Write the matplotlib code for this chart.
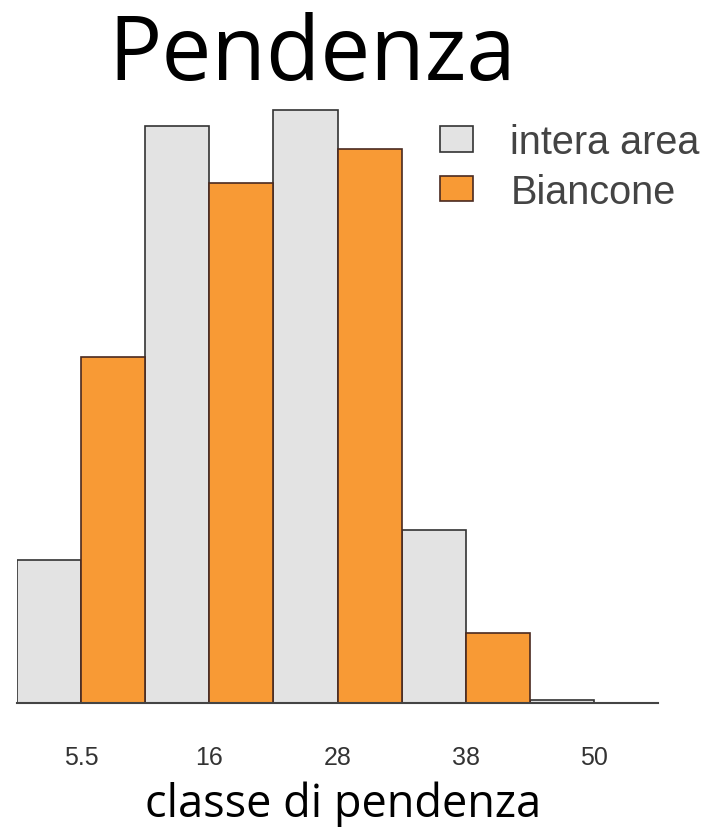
import matplotlib.pyplot as plt
import numpy as np

# classi di pendenza
classi = ["5.5", "16", "28", "38", "50"]
# percentuali (somma ~100)
intera_area = [9.6, 38.7, 39.8, 11.6, 0.2]
biancone = [23.2, 34.9, 37.2, 4.7, 0.0]

fig = plt.figure(figsize=(7.18, 8.28), dpi=100)
ax = fig.add_axes([17 / 718, 1 - 704 / 828, 641 / 718, 604 / 828])

x = np.arange(len(classi))
w = 0.5
ax.bar(x - w / 2, intera_area, width=w, color="#e3e3e3", edgecolor="#333333",
       linewidth=1.2, label="intera area")
ax.bar(x + w / 2, biancone, width=w, color="#f89a35", edgecolor="#4a2a20",
       linewidth=1.2, label="Biancone")

ax.set_xlim(-0.5, 4.5)
ax.set_ylim(0, 40.54)
ax.set_yticks([])
ax.set_xticks(x)
ax.set_xticklabels(classi, fontfamily=["Liberation Sans Narrow", "Liberation Sans"],
                   fontsize=18, color="#333333")
ax.tick_params(axis="x", length=0, pad=30)
for s in ["top", "right", "left"]:
    ax.spines[s].set_visible(False)
ax.spines["bottom"].set_color("#444444")
ax.spines["bottom"].set_linewidth(1.5)

ax.set_xlabel("classe di pendenza", fontfamily="Open Sans", fontsize=32.5)
ax.xaxis.set_label_coords((343 - 17) / 641, -0.128)

fig.text(312 / 718, 1 - 57 / 828, "Pendenza", fontfamily="Open Sans", fontsize=64,
         ha="center", va="center")

leg = ax.legend(loc="upper left", bbox_to_anchor=(440 / 718, 1 - 124 / 828),
                bbox_transform=fig.transFigure, frameon=False,
                prop={"family": "Liberation Sans", "size": 28.5},
                handlelength=0.83, handleheight=0.6, handletextpad=0.95,
                labelspacing=0.3, borderpad=0, borderaxespad=0)
for t in leg.get_texts():
    t.set_color("#444444")

fig.savefig("out.png", dpi=100)
